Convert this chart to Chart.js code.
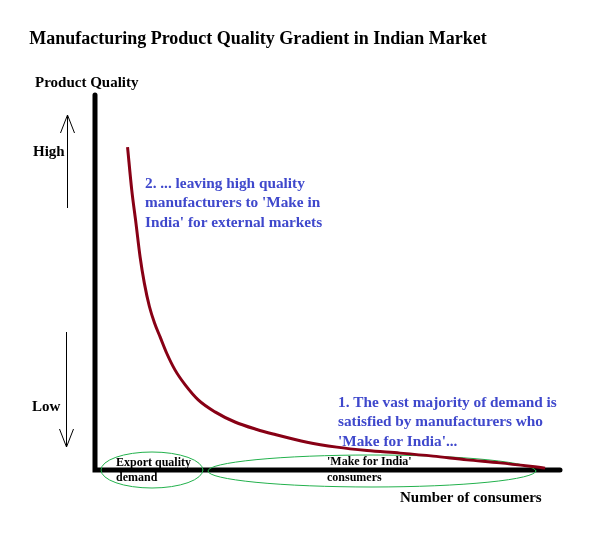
<!DOCTYPE html>
<html>
<head>
<meta charset="utf-8">
<script src="https://cdn.jsdelivr.net/npm/chart.js@4.4.1/dist/chart.umd.min.js"></script>
<style>
  html, body { margin: 0; padding: 0; background: #fff; }
  #wrap { width: 595px; height: 539px; }
</style>
</head>
<body>
<div id="wrap"><canvas id="qualityChart"></canvas></div>
<script>
// curve: share of consumers (0-100) vs product quality (0-100)
const curveConsumers = [7.0, 7.9, 8.8, 9.7, 10.6, 11.7, 12.8, 14.0, 15.4, 17.2, 19.4, 22.2, 25.8, 30.1, 34.8, 38.3, 45.6, 52.0, 58.5, 65.6, 72.7, 80.0, 87.1, 96.8];
const curveQuality = [86.1, 74.7, 65.9, 56.8, 49.9, 43.6, 39.2, 35.5, 31.2, 26.7, 22.7, 18.7, 15.5, 12.8, 10.8, 9.6, 7.4, 6.1, 5.2, 4.5, 3.7, 2.7, 1.9, 0.5];

const chartTitle = 'Manufacturing Product Quality Gradient in Indian Market';
const yAxisTitle = 'Product Quality';
const xAxisTitle = 'Number of consumers';
const qualityLabels = ['High', 'Low'];
const noteExport = ['2. ... leaving high quality', 'manufacturers to \'Make in', 'India\' for external markets'];
const noteDomestic = ['1. The vast majority of demand is', 'satisfied by manufacturers who', '\'Make for India\'...'];
const groupExport = ['Export quality', 'demand'];
const groupDomestic = ['\'Make for India\'', 'consumers'];

const serif = '"Liberation Serif", "Times New Roman", serif';
const blue = '#3F48CC';
const green = '#22B14C';

function arrow(ctx, x, y1, y2) {
    // line from y1 to tip at y2, open V head
    const dir = y2 < y1 ? 1 : -1;
    ctx.beginPath();
    ctx.moveTo(x, y1);
    ctx.lineTo(x, y2);
    ctx.moveTo(x - 7, y2 + dir * 18);
    ctx.lineTo(x, y2);
    ctx.lineTo(x + 7, y2 + dir * 18);
    ctx.stroke();
}

function lines(ctx, arr, x, y, step) {
    arr.forEach((t, i) => ctx.fillText(t, x, y + i * step));
}

const backdrop = {
    id: 'backdrop',
    beforeDatasetsDraw(chart) {
        const ctx = chart.ctx;
        const xs = chart.scales.x, ys = chart.scales.y;
        const x0 = xs.getPixelForValue(0), y0 = ys.getPixelForValue(0);
        ctx.save();
        // axes
        ctx.strokeStyle = '#000';
        ctx.lineWidth = 5;
        ctx.lineCap = 'round';
        ctx.beginPath();
        ctx.moveTo(x0, ys.getPixelForValue(100));
        ctx.lineTo(x0, y0);
        ctx.lineTo(xs.getPixelForValue(100), y0);
        ctx.stroke();
        // group ellipses
        ctx.strokeStyle = green;
        ctx.lineWidth = 1;
        ctx.beginPath();
        ctx.ellipse(152, 470, 51, 18, 0, 0, Math.PI * 2);
        ctx.stroke();
        ctx.beginPath();
        ctx.ellipse(372, 471, 164, 16, 0, 0, Math.PI * 2);
        ctx.stroke();
        ctx.restore();
    },
    afterDatasetsDraw(chart) {
        const ctx = chart.ctx;
        ctx.save();
        ctx.textBaseline = 'middle';
        ctx.fillStyle = '#000';
        ctx.textAlign = 'center';
        ctx.font = 'bold 18px ' + serif;
        ctx.fillText(chartTitle, 258, 39);
        ctx.textAlign = 'left';
        ctx.font = 'bold 15px ' + serif;
        ctx.fillText(yAxisTitle, 35, 83);
        ctx.fillText(xAxisTitle, 400, 498);
        ctx.fillText(qualityLabels[0], 33, 152);
        ctx.fillText(qualityLabels[1], 32, 407);
        // arrows
        ctx.strokeStyle = '#000';
        ctx.lineWidth = 1;
        arrow(ctx, 67.5, 208, 115);
        arrow(ctx, 66.5, 332, 447);
        // notes
        ctx.fillStyle = blue;
        ctx.font = 'bold 15.3px ' + serif;
        lines(ctx, noteExport, 145, 184, 19.5);
        lines(ctx, noteDomestic, 338, 403, 19.5);
        // group labels
        ctx.fillStyle = '#000';
        ctx.font = 'bold 12px ' + serif;
        lines(ctx, groupExport, 116, 463, 15);
        lines(ctx, groupDomestic, 327, 462, 16);
        ctx.restore();
    }
};

const qualityChart = new Chart(document.getElementById('qualityChart'), {
    type: 'line',
    data: {
        datasets: [{
            data: curveConsumers.map((c, i) => ({ x: c, y: curveQuality[i] })),
            borderColor: '#880015',
            borderWidth: 3,
            pointRadius: 0,
            cubicInterpolationMode: 'monotone',
            fill: false
        }]
    },
    options: {
        responsive: true,
        maintainAspectRatio: false,
        animation: false,
        layout: { padding: { left: 95, right: 35, top: 95, bottom: 69 } },
        plugins: { legend: { display: false }, tooltip: { enabled: false } },
        scales: {
            x: { type: 'linear', min: 0, max: 100, display: false },
            y: { type: 'linear', min: 0, max: 100, display: false }
        }
    },
    plugins: [backdrop]
});
</script>
</body>
</html>
